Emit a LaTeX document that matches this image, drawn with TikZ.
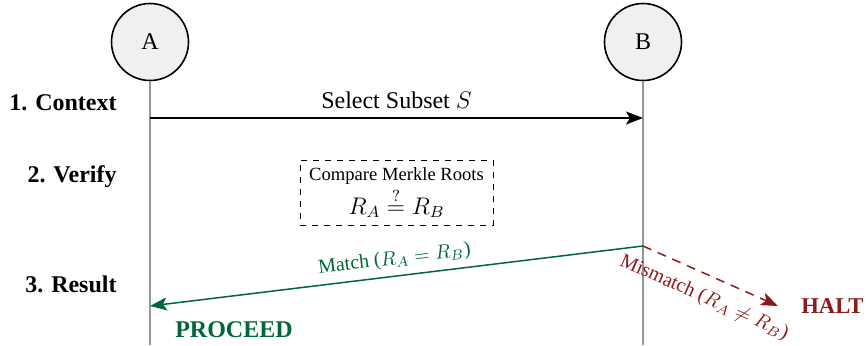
\documentclass[tikz,border=0pt]{standalone}
\usepackage{fontspec}
\setmainfont{Liberation Serif}
\usetikzlibrary{arrows.meta}
\definecolor{okgreen}{RGB}{0,104,56}
\definecolor{badred}{RGB}{139,26,26}
\definecolor{lifegray}{RGB}{150,150,150}
\definecolor{partfill}{RGB}{240,240,240}
\tikzset{
  party/.style={circle, draw=black, line width=0.8pt, fill=partfill, minimum size=38.5pt, inner sep=0pt, font=\fontsize{12}{14}\selectfont},
  lifeline/.style={draw=lifegray, line width=1pt},
  phase/.style={anchor=east, inner sep=0pt, font=\fontsize{12}{14}\selectfont\bfseries},
  msg/.style={line width=0.75pt, -{Stealth[length=8.5pt,width=6.5pt,inset=2pt]}},
  small/.style={font=\fontsize{9.3}{11}\selectfont},
  edgelbl/.style={font=\fontsize{10}{12}\selectfont},
}
\begin{document}
\begin{tikzpicture}[x=0.5pt,y=-0.5pt]
\useasboundingbox (0,0) rectangle (867,345);
% participants
\node[party] (A) at (150,42) {A};
\node[party] (B) at (643,42) {B};
\coordinate (Aend) at (150,345);
\coordinate (Bend) at (643,345);
\draw[lifeline] (A.south) -- (Aend);
\draw[lifeline] (B.south) -- (Bend);
% phase labels
\node[phase] (p1) at (117,103) {1. Context};
\node[phase] (p2) at (117,177) {2. Verify};
\node[phase] (p3) at (117,284) {3. Result};
% step 1
\coordinate (a1) at (150,118);
\coordinate (b1) at (643,118);
\draw[msg, black] (a1) -- node[above=1pt, font=\fontsize{12}{14}\selectfont] (sel) {Select Subset $S$} (b1);
% step 2
\node[draw, dashed, line width=0.5pt, minimum width=96.5pt, minimum height=32.5pt, align=center, small] (cmp) at (396.5,192.5)
  {Compare Merkle Roots\\[1pt] \fontsize{12}{14}\selectfont $R_A \stackrel{?}{=} R_B$};
% step 3
\coordinate (b3) at (643,246);
\coordinate (a3) at (150,306);
\coordinate (halt) at (778,306);
\draw[msg, okgreen] (b3) -- node[pos=0.5, above=0pt, sloped, edgelbl, text=okgreen] (ml) {Match ($R_A = R_B$)} (a3);
\draw[msg, badred, dashed, dash pattern=on 4.5pt off 3.5pt] (b3) -- node[pos=0.52, below=3pt, sloped, edgelbl, text=badred] (mm) {Mismatch ($R_A \neq R_B$)} (halt);
\node[anchor=west, inner sep=0pt, text=badred, font=\fontsize{11.3}{13}\selectfont\bfseries] (hl) at (801,306) {HALT};
\node[text=okgreen, font=\fontsize{12}{14}\selectfont\bfseries] (pr) at (234,330) {PROCEED};
\end{tikzpicture}
\end{document}
